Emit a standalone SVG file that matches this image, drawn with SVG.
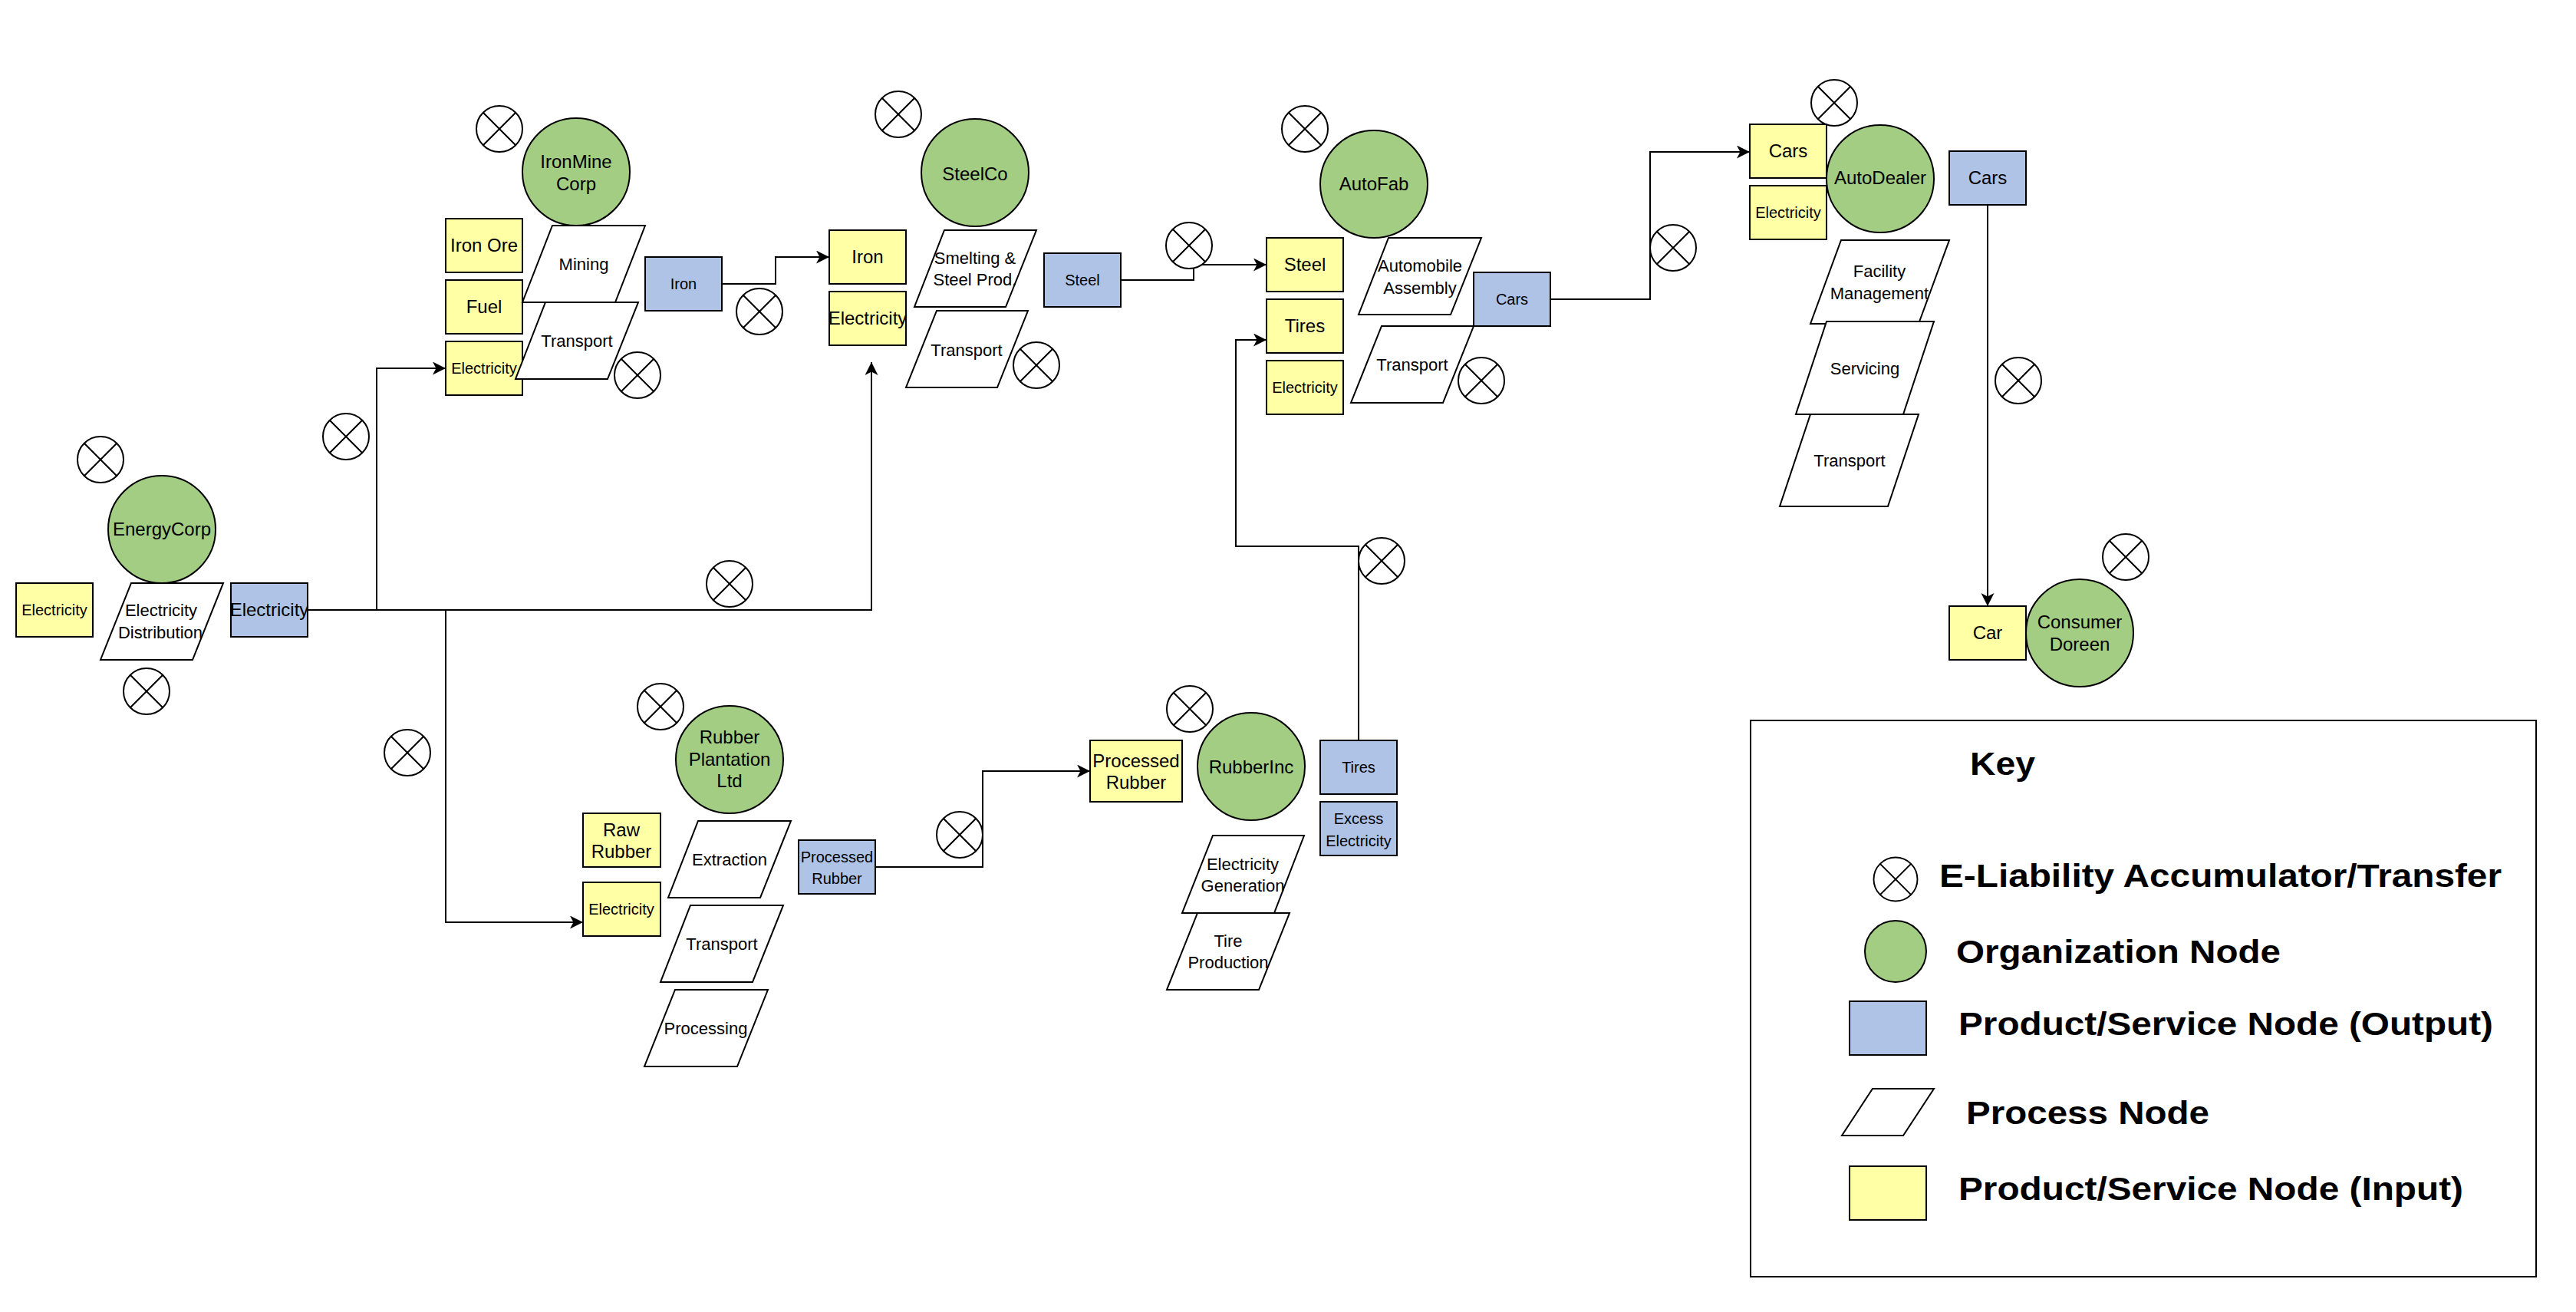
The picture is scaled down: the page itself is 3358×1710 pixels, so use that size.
<svg xmlns="http://www.w3.org/2000/svg" xmlns:xlink="http://www.w3.org/1999/xlink" width="3358" height="1710" viewBox="0 0 3358 1710">
<style>
text { font-family: "Liberation Sans", Arial, Helvetica, sans-serif; fill: #000; text-anchor: middle; }
.org { fill: #A3CD83; stroke: #000; stroke-width: 2; }
.in { fill: #FFFFA6; stroke: #000; stroke-width: 2; }
.out { fill: #AFC3E6; stroke: #000; stroke-width: 2; }
.proc { fill: #FFFFFF; stroke: #000; stroke-width: 2; }
.edge { fill: none; stroke: #000; stroke-width: 2; }
.f24 { font-size: 24px; }
.f22 { font-size: 22px; }
.f20 { font-size: 20px; }
.key { font-size: 42px; font-weight: bold; text-anchor: start; }
</style>
<defs>
<g id="xc">
<circle r="30" fill="#FFFFFF" stroke="#000" stroke-width="2"/>
<line x1="-21.2" y1="-21.2" x2="21.2" y2="21.2" stroke="#000" stroke-width="2"/>
<line x1="-21.2" y1="21.2" x2="21.2" y2="-21.2" stroke="#000" stroke-width="2"/>
</g>
<marker id="arr" markerUnits="userSpaceOnUse" markerWidth="18" markerHeight="18" refX="17" refY="8.5" orient="auto">
<path d="M0,0 L17,8.5 L0,17 L4.5,8.5 Z" fill="#000"/>
</marker>
</defs>
<rect x="0" y="0" width="3358" height="1710" fill="#FFFFFF"/>

<g id="connectors">
<path class="edge" d="M401,795 L1136,795 L1136,472" marker-end="url(#arr)"/>
<path class="edge" d="M491,795 L491,480 L581,480" marker-end="url(#arr)"/>
<path class="edge" d="M581,795 L581,1202 L760,1202" marker-end="url(#arr)"/>
<path class="edge" d="M941,370 L1011,370 L1011,335 L1081,335" marker-end="url(#arr)"/>
<path class="edge" d="M1461,365 L1556,365 L1556,345 L1651,345" marker-end="url(#arr)"/>
<path class="edge" d="M2021,390 L2151,390 L2151,198 L2281,198" marker-end="url(#arr)"/>
<path class="edge" d="M2591,267 L2591,790" marker-end="url(#arr)"/>
<path class="edge" d="M1141,1130 L1281,1130 L1281,1005 L1421,1005" marker-end="url(#arr)"/>
<path class="edge" d="M1771,965 L1771,712 L1611,712 L1611,443 L1651,443" marker-end="url(#arr)"/>
<use xlink:href="#xc" x="451" y="569"/>
<use xlink:href="#xc" x="951" y="761"/>
<use xlink:href="#xc" x="531" y="981"/>
<use xlink:href="#xc" x="990" y="406"/>
<use xlink:href="#xc" x="1550" y="320"/>
<use xlink:href="#xc" x="2181" y="323"/>
<use xlink:href="#xc" x="2631" y="496"/>
<use xlink:href="#xc" x="1251" y="1088"/>
<use xlink:href="#xc" x="1801" y="731"/>
</g>

<g id="energycorp">
<use xlink:href="#xc" x="131" y="599"/>
<circle class="org" cx="211" cy="690" r="70"/>
<text class="f24" x="211" y="698">EnergyCorp</text>
<rect class="in" x="21" y="760" width="100" height="70"/>
<text class="f20" x="71" y="802">Electricity</text>
<polygon class="proc" points="171,760 291,760 251,860 131,860"/>
<text class="f22" x="210" y="803">Electricity</text>
<text class="f22" x="209" y="832">Distribution</text>
<rect class="out" x="301" y="760" width="100" height="70"/>
<text class="f24" x="351" y="803">Electricity</text>
<use xlink:href="#xc" x="191" y="901"/>
</g>

<g id="ironmine">
<use xlink:href="#xc" x="651" y="168"/>
<circle class="org" cx="751" cy="224" r="70"/>
<text class="f24" x="751" y="219">IronMine</text>
<text class="f24" x="751" y="248">Corp</text>
<rect class="in" x="581" y="285" width="100" height="70"/>
<text class="f24" x="631" y="328">Iron Ore</text>
<rect class="in" x="581" y="365" width="100" height="70"/>
<text class="f24" x="631" y="408">Fuel</text>
<rect class="in" x="581" y="445" width="100" height="70"/>
<text class="f20" x="631" y="487">Electricity</text>
<polygon class="proc" points="720,294 841,294 802,394 681,394"/>
<text class="f22" x="761" y="352">Mining</text>
<polygon class="proc" points="711,394 832,394 792,494 672,494"/>
<text class="f22" x="752" y="452">Transport</text>
<use xlink:href="#xc" x="831" y="489"/>
<rect class="out" x="841" y="335" width="100" height="70"/>
<text class="f20" x="891" y="377">Iron</text>
</g>

<g id="steelco">
<use xlink:href="#xc" x="1171" y="149"/>
<circle class="org" cx="1271" cy="225" r="70"/>
<text class="f24" x="1271" y="235">SteelCo</text>
<rect class="in" x="1081" y="300" width="100" height="70"/>
<text class="f24" x="1131" y="343">Iron</text>
<rect class="in" x="1081" y="380" width="100" height="70"/>
<text class="f24" x="1131" y="423">Electricity</text>
<polygon class="proc" points="1231,300 1351,300 1311,400 1192,400"/>
<text class="f22" x="1271" y="344">Smelting &amp;</text>
<text class="f22" x="1271" y="372">Steel Prod.</text>
<polygon class="proc" points="1221,405 1340,405 1300,505 1181,505"/>
<text class="f22" x="1260" y="464">Transport</text>
<use xlink:href="#xc" x="1351" y="476"/>
<rect class="out" x="1361" y="330" width="100" height="70"/>
<text class="f20" x="1411" y="372">Steel</text>
</g>

<g id="autofab">
<use xlink:href="#xc" x="1701" y="168"/>
<circle class="org" cx="1791" cy="240" r="70"/>
<text class="f24" x="1791" y="248">AutoFab</text>
<rect class="in" x="1651" y="310" width="100" height="70"/>
<text class="f24" x="1701" y="353">Steel</text>
<rect class="in" x="1651" y="390" width="100" height="70"/>
<text class="f24" x="1701" y="433">Tires</text>
<rect class="in" x="1651" y="470" width="100" height="70"/>
<text class="f20" x="1701" y="512">Electricity</text>
<polygon class="proc" points="1810,310 1931,310 1891,410 1771,410"/>
<text class="f22" x="1851" y="354">Automobile</text>
<text class="f22" x="1851" y="383">Assembly</text>
<polygon class="proc" points="1801,425 1921,425 1881,525 1761,525"/>
<text class="f22" x="1841" y="483">Transport</text>
<use xlink:href="#xc" x="1931" y="496"/>
<rect class="out" x="1921" y="355" width="100" height="70"/>
<text class="f20" x="1971" y="397">Cars</text>
</g>

<g id="autodealer">
<use xlink:href="#xc" x="2391" y="134"/>
<rect class="in" x="2281" y="162" width="100" height="70"/>
<text class="f24" x="2331" y="205">Cars</text>
<rect class="in" x="2281" y="242" width="100" height="70"/>
<text class="f20" x="2331" y="284">Electricity</text>
<circle class="org" cx="2451" cy="233" r="70"/>
<text class="f24" x="2451" y="240">AutoDealer</text>
<polygon class="proc" points="2400,313 2541,313 2501,422 2360,422"/>
<text class="f22" x="2450" y="361">Facility</text>
<text class="f22" x="2450" y="390">Management</text>
<polygon class="proc" points="2381,419 2521,419 2481,540 2341,540"/>
<text class="f22" x="2431" y="488">Servicing</text>
<polygon class="proc" points="2360,540 2501,540 2461,660 2320,660"/>
<text class="f22" x="2411" y="608">Transport</text>
<rect class="out" x="2541" y="197" width="100" height="70"/>
<text class="f24" x="2591" y="240">Cars</text>
</g>

<g id="consumer">
<rect class="in" x="2541" y="790" width="100" height="70"/>
<text class="f24" x="2591" y="833">Car</text>
<circle class="org" cx="2711" cy="825" r="70"/>
<text class="f24" x="2711" y="819">Consumer</text>
<text class="f24" x="2711" y="848">Doreen</text>
<use xlink:href="#xc" x="2771" y="726"/>
</g>

<g id="rubberplantation">
<use xlink:href="#xc" x="861" y="921"/>
<circle class="org" cx="951" cy="990" r="70"/>
<text class="f24" x="951" y="969">Rubber</text>
<text class="f24" x="951" y="998">Plantation</text>
<text class="f24" x="951" y="1026">Ltd</text>
<rect class="in" x="760" y="1060" width="101" height="70"/>
<text class="f24" x="810" y="1090">Raw</text>
<text class="f24" x="810" y="1118">Rubber</text>
<rect class="in" x="760" y="1150" width="101" height="70"/>
<text class="f20" x="810" y="1192">Electricity</text>
<polygon class="proc" points="910,1070 1031,1070 991,1170 871,1170"/>
<text class="f22" x="951" y="1128">Extraction</text>
<polygon class="proc" points="900,1180 1021,1180 981,1280 861,1280"/>
<text class="f22" x="941" y="1238">Transport</text>
<polygon class="proc" points="880,1290 1001,1290 961,1390 840,1390"/>
<text class="f22" x="920" y="1348">Processing</text>
<rect class="out" x="1041" y="1095" width="100" height="70"/>
<text class="f20" x="1091" y="1124">Processed</text>
<text class="f20" x="1091" y="1152">Rubber</text>
</g>

<g id="rubberinc">
<use xlink:href="#xc" x="1551" y="924"/>
<rect class="in" x="1421" y="965" width="120" height="80"/>
<text class="f24" x="1481" y="1000">Processed</text>
<text class="f24" x="1481" y="1028">Rubber</text>
<circle class="org" cx="1631" cy="999" r="70"/>
<text class="f24" x="1631" y="1008">RubberInc</text>
<rect class="out" x="1721" y="965" width="100" height="70"/>
<text class="f20" x="1771" y="1007">Tires</text>
<rect class="out" x="1721" y="1045" width="100" height="70"/>
<text class="f20" x="1771" y="1074">Excess</text>
<text class="f20" x="1771" y="1103">Electricity</text>
<polygon class="proc" points="1581,1089 1700,1089 1661,1190 1541,1190"/>
<text class="f22" x="1620" y="1134">Electricity</text>
<text class="f22" x="1620" y="1162">Generation</text>
<polygon class="proc" points="1561,1190 1681,1190 1641,1290 1521,1290"/>
<text class="f22" x="1601" y="1234">Tire</text>
<text class="f22" x="1601" y="1262">Production</text>
</g>

<g id="key">
<rect x="2282" y="939" width="1024" height="725" fill="#FFFFFF" stroke="#000" stroke-width="2"/>
<text class="key" x="2568" y="1010" textLength="85" lengthAdjust="spacingAndGlyphs">Key</text>
<use xlink:href="#xc" x="2471" y="1146" transform="translate(2471,1146) scale(0.95) translate(-2471,-1146)"/>
<text class="key" x="2528" y="1156" textLength="733" lengthAdjust="spacingAndGlyphs">E-Liability Accumulator/Transfer</text>
<circle class="org" cx="2471" cy="1240" r="40"/>
<text class="key" x="2550" y="1255" textLength="423" lengthAdjust="spacingAndGlyphs">Organization Node</text>
<rect class="out" x="2411" y="1305" width="100" height="70"/>
<text class="key" x="2553" y="1349" textLength="697" lengthAdjust="spacingAndGlyphs">Product/Service Node (Output)</text>
<polygon class="proc" points="2441,1419 2521,1419 2481,1480 2401,1480"/>
<text class="key" x="2563" y="1465" textLength="317" lengthAdjust="spacingAndGlyphs">Process Node</text>
<rect class="in" x="2411" y="1520" width="100" height="70"/>
<text class="key" x="2553" y="1564" textLength="658" lengthAdjust="spacingAndGlyphs">Product/Service Node (Input)</text>
</g>
</svg>
